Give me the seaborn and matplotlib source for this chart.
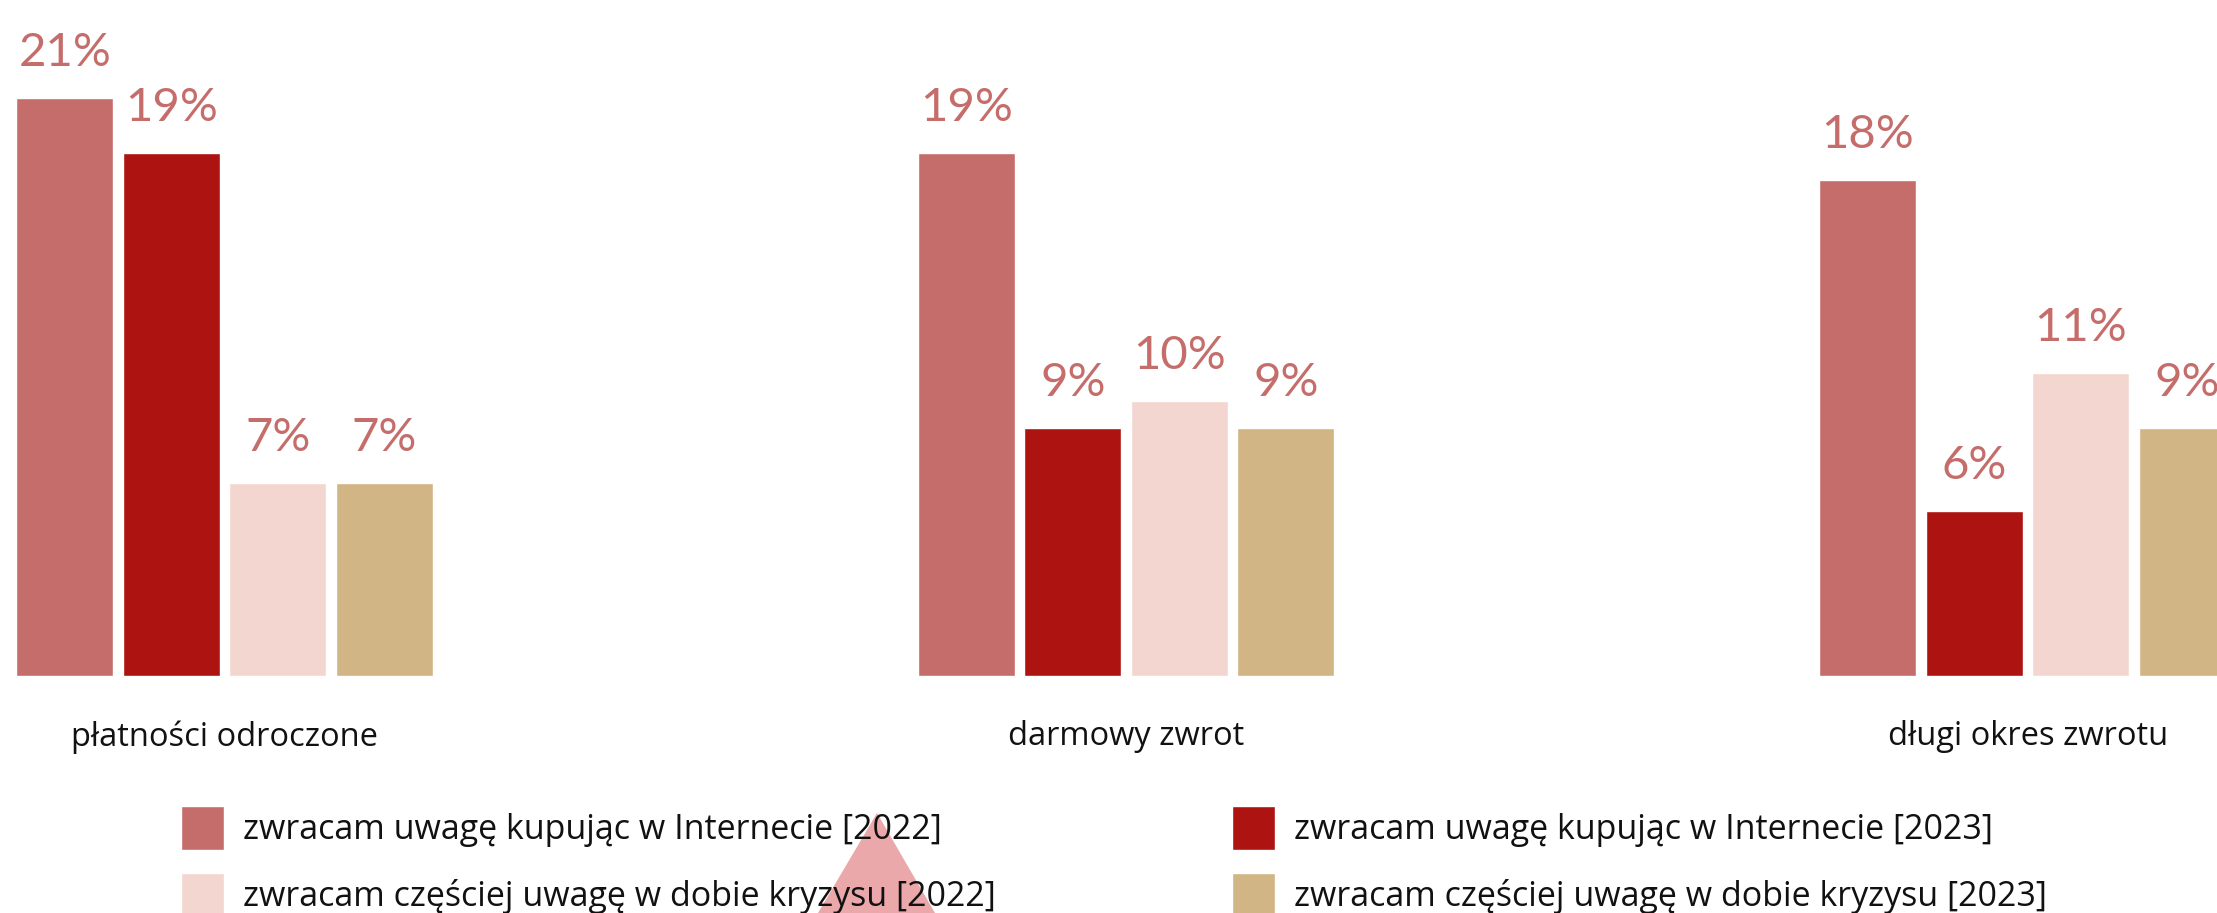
import matplotlib
matplotlib.use("Agg")
import matplotlib.pyplot as plt
import seaborn as sns
import pandas as pd
from matplotlib.patches import Polygon

# --- data -------------------------------------------------------------
categories = ["płatności odroczone", "darmowy zwrot", "długi okres zwrotu"]
series_names = [
    "zwracam uwagę kupując w Internecie [2022]",
    "zwracam uwagę kupując w Internecie [2023]",
    "zwracam częściej uwagę w dobie kryzysu [2022]",
    "zwracam częściej uwagę w dobie kryzysu [2023]",
]
internet_2022 = [21, 19, 18]
internet_2023 = [19, 9, 6]
crisis_2022 = [7, 10, 11]
crisis_2023 = [7, 9, 9]

colors = ["#C56D6B", "#AC1311", "#F3D6CF", "#D2B584"]
label_color = "#C56D6B"

df = pd.DataFrame({
    "kategoria": categories * 4,
    "seria": [s for s in series_names for _ in categories],
    "wartosc": internet_2022 + internet_2023 + crisis_2022 + crisis_2023,
})

# --- figure -----------------------------------------------------------
sns.set_theme(style="white")
plt.rcParams["font.family"] = ["Open Sans", "DejaVu Sans"]

W, H, DPI = 2217, 913, 100
fig = plt.figure(figsize=(W / DPI, H / DPI), dpi=DPI)
fig.patch.set_facecolor("white")
ax = fig.add_axes([0, 237 / H, 1, 676 / H])
ax.set_facecolor("none")

sns.barplot(
    data=df, x="kategoria", y="wartosc", hue="seria",
    order=categories, hue_order=series_names, palette=colors,
    width=0.4725, gap=0.09, saturation=1, ax=ax,
)

handles, labels = ax.get_legend_handles_labels()
ax.get_legend().remove()

ax.set_xlim(-0.249, 2.210)
ax.set_ylim(0, 24.54)
ax.set_xlabel("")
ax.set_ylabel("")
ax.set_yticks([])
for sp in ax.spines.values():
    sp.set_visible(False)

ax.set_xticks(range(len(categories)))
ax.set_xticklabels(categories, fontsize=23.5, color="#111111")
ax.tick_params(axis="x", length=0, pad=32)

# value labels above each bar
for cont in ax.containers:
    for bar in cont:
        h = bar.get_height()
        ax.annotate(
            f"{h:.0f}%",
            (bar.get_x() + bar.get_width() / 2, h),
            xytext=(0, 32), textcoords="offset pixels",
            ha="center", va="baseline",
            fontsize=34, color=label_color, family=["Lato", "DejaVu Sans"],
        )

# decorative triangle behind the legend
tri = Polygon(
    [(877 / W, 1 - 813 / H), (818 / W, 0), (935 / W, 0)],
    closed=True, transform=fig.transFigure, facecolor="#EAA8AA",
    edgecolor="none", zorder=1,
)
fig.patches.append(tri)

leg_kw = dict(
    loc="upper left", bbox_transform=fig.transFigure, frameon=False,
    fontsize=24.5, handlelength=1.26, handleheight=1.61, handletextpad=0.56,
    labelspacing=0.67, borderpad=0, borderaxespad=0,
)
leg1 = fig.legend([handles[0], handles[2]], [labels[0], labels[2]],
                  bbox_to_anchor=(181 / W, 1 - 806 / H), **leg_kw)
leg2 = fig.legend([handles[1], handles[3]], [labels[1], labels[3]],
                  bbox_to_anchor=(1232 / W, 1 - 806 / H), **leg_kw)
for leg in (leg1, leg2):
    leg.set_zorder(5)
    for t in leg.get_texts():
        t.set_color("#111111")

fig.savefig("out.png", dpi=DPI)
